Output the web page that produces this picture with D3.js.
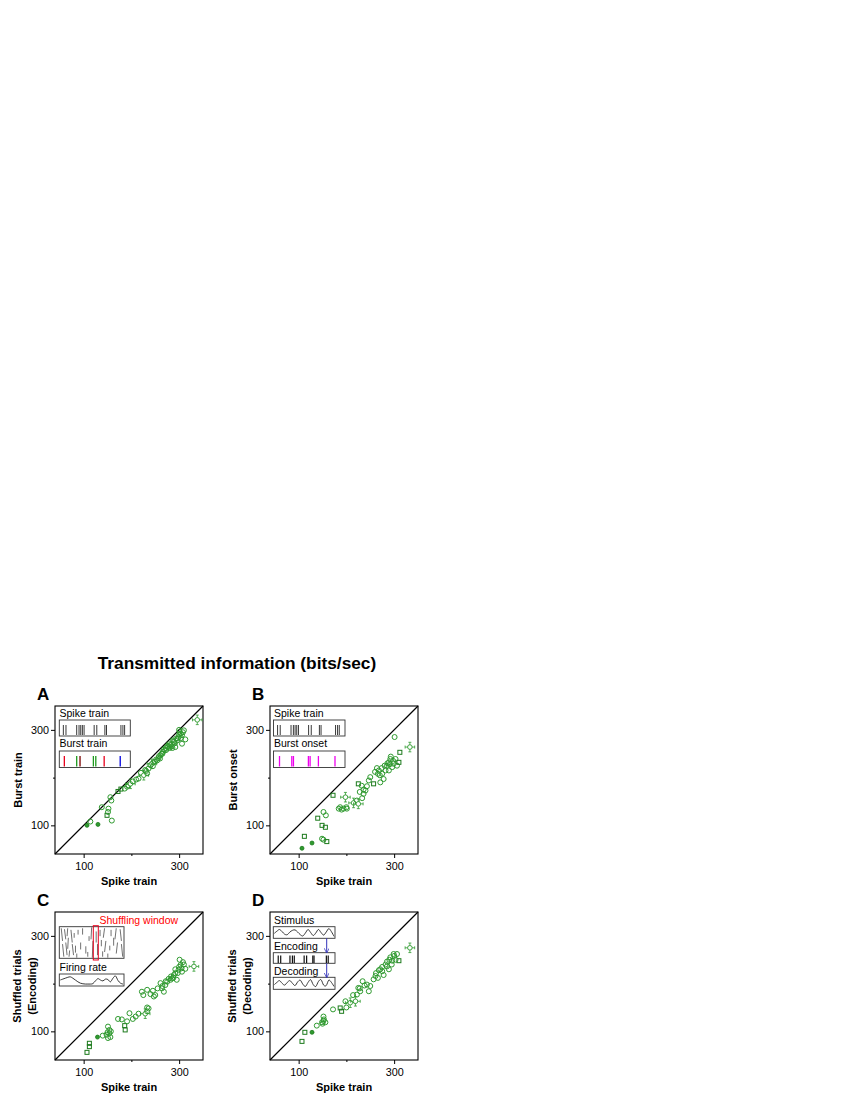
<!DOCTYPE html>
<html><head><meta charset="utf-8">
<script src="https://cdn.jsdelivr.net/npm/d3@7"></script>
<style>
body{margin:0;background:#fff}
svg{display:block}
text{font-family:Arial,"Liberation Sans",sans-serif;fill:#000}
</style>
</head><body>
<svg id="chart" width="850" height="1100"></svg>
<script>
// ---------- data ----------
const axisDomain = [40, 350];
const tickValues = [100, 200, 300];
const tickLabels = ["100", "", "300"];
const errSize = 10;

// Panel A: Spike train vs Burst train
const aX = [107,130,114,138,149,151,152,159,156,158,172,178,186,191,194,198,203,215,220,226,229,233,236,240,243,246,249,254,257,261,263,266,268,270,272,275,277,280,282,285,287,289,292,294,296,299,301,303,306,306,310,313,338,
            245,252,258,265,273,279,284,291,297,300,304,308,286,260,231,210,300];
const aY = [100,102,108,138,121,128,135,110,159,152,171,176,177,181,184,187,192,198,210,205,216,209,219,226,229,232,233,236,241,247,250,254,259,257,262,266,264,262,268,271,278,275,264,282,278,285,296,292,289,271,299,280,321,
            224,238,245,250,258,270,265,272,282,290,283,295,262,240,214,196,300];
const aK = ["f","f","o","o","s","o","o","o","o","o","s","s","o","o","o","e","o","o","o","e","o","o","o","o","e","o","o","o","o","o","o","o","o","o","o","o","o","o","o","e","o","o","o","o","o","o","o","o","o","o","o","o","e",
            "o","o","o","o","o","o","o","o","o","o","o","o","o","o","o","o","o"];

// Panel B: Spike train vs Burst onset
const bX = [107,112,128,140,149,156,152,157,149,152,159,172,198,187,190,194,201,215,222,225,233,236,240,243,225,232,247,250,257,266,271,278,268,275,282,285,289,292,296,289,299,303,306,310,301,312,333,
            260,264,270,274,280,286,291,298,293,236,228,200,184];
const bY = [52,77,63,115,100,96,128,121,72,70,66,163,159,138,133,135,135,147,152,145,157,166,173,182,187,183,194,201,187,208,190,197,215,208,215,225,232,239,222,215,229,239,225,232,285,253,264,
            212,220,205,220,225,230,228,235,244,175,170,138,135];
const bK = ["f","s","f","s","s","s","o","o","o","o","s","s","e","o","o","o","o","e","o","e","o","o","o","o","s","o","o","o","s","o","o","o","o","o","o","o","o","o","o","o","o","o","o","s","o","s","e",
            "o","o","o","o","o","o","o","o","o","o","o","o","o"];

// Panel C: Spike train vs Shuffled trials (Encoding)
const cX = [107,112,112,129,140,148,151,154,151,156,154,172,186,187,191,196,203,209,215,229,233,233,236,222,225,233,247,250,261,264,268,271,275,282,285,289,292,295,299,303,306,301,308,313,331,
            265,272,278,283,288,292,297,300,305,310,240,245,255,180,157,150];
const cY = [56,75,68,88,91,93,110,96,86,88,103,126,112,103,121,138,126,131,137,137,142,150,148,183,176,187,173,176,201,190,183,197,204,208,211,218,222,208,229,239,225,250,245,231,236,
            195,205,210,215,212,230,222,235,232,240,178,185,190,125,100,98];
const cK = ["s","s","s","f","o","o","o","o","o","o","o","o","s","s","o","o","o","o","o","e","o","o","o","o","o","o","o","o","o","o","o","o","o","o","o","o","o","o","o","o","o","o","o","o","e",
            "o","o","o","o","o","o","o","o","o","o","o","o","o","o","o","o"];

// Panel D: Spike train vs Shuffled trials (Decoding)
const dX = [107,113,128,138,149,152,156,152,172,187,190,198,208,219,222,225,229,234,243,247,250,257,261,266,271,275,282,285,289,292,296,299,306,310,333,
            262,268,275,278,285,290,295,300,303,238,228,214,200,153,150];
const dY = [79,98,98,112,119,122,119,131,146,149,142,163,160,163,177,191,184,205,198,184,195,209,216,212,230,226,240,246,230,255,248,262,262,248,275,
            222,228,235,218,236,250,240,258,250,196,190,176,150,125,116];
const dK = ["s","s","f","o","o","o","o","o","o","s","s","o","e","e","o","o","o","o","o","o","o","o","o","o","o","o","o","o","o","o","o","o","o","s","e",
            "o","o","o","o","o","o","o","o","o","o","o","o","o","o","o"];

// Inset data
const spikeFrac = [0.057,0.094,0.245,0.278,0.302,0.325,0.349,0.491,0.528,0.642,0.665,0.868,0.896,0.92];
const burstFrac = [0.071,0.245,0.292,0.48,0.514,0.632,0.858];
const burstColor = ["#e8001c","#1d9a1d","#7a0000","#1d9a1d","#1d9a1d","#e8001c","#0000e0"];
const onsetFrac = [0.084,0.256,0.279,0.488,0.512,0.628,0.86];
const encodeFrac = [0.08,0.12,0.27,0.31,0.34,0.50,0.54,0.64,0.66,0.86,0.89];
// raster dashes: [x fraction, y start, y end, x shift]
const raster = [
 [0.03,0.05,0.45,0.02],[0.05,0.55,0.95,0.02],[0.08,0.08,0.40,0.02],[0.10,0.50,0.90,0.02],
 [0.13,0.05,0.30,-0.01],[0.14,0.35,0.70,-0.01],[0.16,0.75,0.95,-0.01],[0.18,0.10,0.50,0.02],
 [0.20,0.55,0.90,0.02],[0.23,0.20,0.35,0.0],[0.25,0.60,0.82,0.0],[0.29,0.10,0.25,0.0],
 [0.33,0.50,0.72,0.0],[0.36,0.05,0.25,0.0],[0.41,0.62,0.85,0.0],[0.46,0.30,0.45,0.0],
 [0.50,0.02,0.40,-0.01],[0.52,0.45,0.98,-0.01],[0.57,0.15,0.50,0.0],[0.59,0.55,0.90,0.0],
 [0.63,0.10,0.30,0.0],[0.65,0.42,0.62,0.0],[0.70,0.05,0.35,-0.02],[0.72,0.45,0.80,-0.02],
 [0.75,0.85,0.98,0.0],[0.80,0.10,0.30,0.0],[0.84,0.35,0.60,0.0],[0.88,0.05,0.40,-0.02],
 [0.90,0.50,0.85,-0.02],[0.94,0.08,0.45,0.02],[0.96,0.55,0.95,0.02],[0.27,0.85,0.98,0.0],
 [0.44,0.80,0.95,0.0],[0.78,0.60,0.75,0.0],[0.67,0.78,0.95,0.0]
];
const firingRate = [0.5,0.6,0.7,0.8,0.85,0.7,0.5,0.3,0.15,0.08,0.05,0.05,0.05,0.1,0.4,0.65,0.5,0.4,0.6,0.55,0.3,0.7,0.95,0.45,0.15,0.05];
const stimulus = [0.4,0.65,0.85,0.6,0.3,0.25,0.55,0.75,0.8,0.55,0.25,0.1,0.45,0.85,0.5,0.15,0.45,0.85,0.5,0.2,0.55,0.95,0.6,0.05];
const decoding = [0.35,0.6,0.8,0.5,0.3,0.6,0.8,0.5,0.25,0.65,0.85,0.4,0.15,0.6,0.9,0.35,0.15,0.7,0.9,0.3,0.25,0.85,0.6,0.15];

// ---------- drawing ----------
const svg = d3.select("#chart");
const S = 148;
const green = "#2f9a2f", greenDark = "#1c7a1c";

svg.append("text").attr("x", 237).attr("y", 669).attr("text-anchor","middle")
  .style("font-size","17.3px").style("font-weight","bold")
  .text("Transmitted information (bits/sec)");

function panel(left, top, letter, xs, ys, ks, ylab) {
  const g = svg.append("g").attr("transform", `translate(${left},${top})`);
  const x = d3.scaleLinear(axisDomain, [0, S]);
  const y = d3.scaleLinear(axisDomain, [S, 0]);

  svg.append("text").attr("x", left - 18).attr("y", top - 6)
    .style("font-size","17px").style("font-weight","bold").text(letter);

  const ax = g.append("g").attr("transform", `translate(0,${S})`)
    .call(d3.axisBottom(x).tickValues(tickValues).tickSize(4).tickSizeOuter(0)
      .tickFormat((d,i)=>tickLabels[i]));
  const ay = g.append("g")
    .call(d3.axisLeft(y).tickValues(tickValues).tickSize(4).tickSizeOuter(0)
      .tickFormat((d,i)=>tickLabels[i]));
  [ax, ay].forEach(a => {
    a.select(".domain").remove();
    a.selectAll("text").style("font-size","10.8px").style("font-family","Arial, 'Liberation Sans', sans-serif").attr("fill","#000");
    a.selectAll(".tick line").attr("stroke","#000");
  });
  ax.selectAll(".tick").filter(d=>d===200).select("line").attr("y2", 2);
  ay.selectAll(".tick").filter(d=>d===200).select("line").attr("x2", -2);
  ax.selectAll("text").attr("dy", "0.71em").attr("y", 8);
  ay.selectAll("text").attr("x", -6);

  g.append("rect").attr("width", S).attr("height", S)
    .attr("fill","none").attr("stroke","#000").attr("stroke-width",1.1);
  g.append("line").attr("x1", x(axisDomain[0])).attr("y1", y(axisDomain[0]))
    .attr("x2", x(axisDomain[1])).attr("y2", y(axisDomain[1]))
    .attr("stroke","#000").attr("stroke-width",1.2);

  const pts = xs.map((v,i)=>({x:v, y:ys[i], k:ks[i]}));
  const pg = g.append("g");
  pts.forEach(p => {
    const cx = x(p.x), cy = y(p.y);
    if (p.k === "e") {
      pg.append("line").attr("x1", x(p.x-errSize)).attr("x2", x(p.x+errSize)).attr("y1",cy).attr("y2",cy)
        .attr("stroke",green).attr("stroke-width",0.8);
      pg.append("line").attr("y1", y(p.y-errSize)).attr("y2", y(p.y+errSize)).attr("x1",cx).attr("x2",cx)
        .attr("stroke",green).attr("stroke-width",0.8);
      [x(p.x-errSize), x(p.x+errSize)].forEach(ex=>pg.append("line")
        .attr("x1",ex).attr("x2",ex).attr("y1",cy-1.5).attr("y2",cy+1.5).attr("stroke",green).attr("stroke-width",0.8));
      [y(p.y-errSize), y(p.y+errSize)].forEach(ey=>pg.append("line")
        .attr("y1",ey).attr("y2",ey).attr("x1",cx-1.5).attr("x2",cx+1.5).attr("stroke",green).attr("stroke-width",0.8));
      pg.append("circle").attr("cx",cx).attr("cy",cy).attr("r",2.3)
        .attr("fill","#fff").attr("stroke",green).attr("stroke-width",0.9);
    } else if (p.k === "s") {
      pg.append("rect").attr("x",cx-2).attr("y",cy-2).attr("width",4).attr("height",4)
        .attr("fill","none").attr("stroke",greenDark).attr("stroke-width",1);
    } else if (p.k === "f") {
      pg.append("circle").attr("cx",cx).attr("cy",cy).attr("r",2)
        .attr("fill",green).attr("stroke",greenDark).attr("stroke-width",0.8);
    } else {
      pg.append("circle").attr("cx",cx).attr("cy",cy).attr("r",2.5)
        .attr("fill","none").attr("stroke",green).attr("stroke-width",1);
    }
  });

  svg.append("text").attr("x", left + S/2).attr("y", top + S + 31).attr("text-anchor","middle")
    .style("font-size","11px").style("font-weight","bold").text("Spike train");
  ylab.forEach((t,i) => {
    const bx = ylab.length === 1 ? 22 : 21 + i*15;
    svg.append("text").attr("transform", `translate(${left - 55 + bx},${top + S/2}) rotate(-90)`)
      .attr("text-anchor","middle").style("font-size","11px").style("font-weight","bold").text(t);
  });
  return g;
}

function box(g, x0, y0, w, h) {
  g.append("rect").attr("x",x0).attr("y",y0).attr("width",w).attr("height",h)
    .attr("fill","#fff").attr("stroke","#333").attr("stroke-width",0.9);
}
function label(g, x0, y0, t, col) {
  g.append("text").attr("x",x0).attr("y",y0).style("font-size","10.5px")
    .style("fill", col || "#000").text(t);
}
function ticks(g, x0, y0, w, h, fr, cols, sw) {
  fr.forEach((f,i)=>g.append("line").attr("x1",x0+f*w).attr("x2",x0+f*w)
    .attr("y1",y0+5).attr("y2",y0+h-1).attr("stroke", cols ? cols[i] : "#222").attr("stroke-width", sw));
}
function wave(g, x0, y0, w, h, vals) {
  const sx = d3.scaleLinear([0, vals.length-1], [x0+1, x0+w-1]);
  const sy = d3.scaleLinear([0,1], [y0+h-1.5, y0+1.5]);
  g.append("path").attr("d", d3.line().x((d,i)=>sx(i)).y(d=>sy(d)).curve(d3.curveCardinal)(vals))
    .attr("fill","none").attr("stroke","#222").attr("stroke-width",0.9);
}

// Panel A
const gA = panel(55, 706, "A", aX, aY, aK, ["Burst train"]);
label(gA, 4.5, 10.5, "Spike train");
box(gA, 4.3, 14, 71, 16);
ticks(gA, 4.3, 14, 71, 16, spikeFrac, null, 0.9);
label(gA, 4.5, 41, "Burst train");
box(gA, 4.3, 45, 71, 16.5);
ticks(gA, 4.3, 45, 71, 16.5, burstFrac, burstColor, 1.3);

// Panel B
const gB = panel(270, 706, "B", bX, bY, bK, ["Burst onset"]);
label(gB, 4, 10.5, "Spike train");
box(gB, 3.5, 14, 71.5, 16);
ticks(gB, 3.5, 14, 71.5, 16, spikeFrac, null, 0.9);
label(gB, 4, 41, "Burst onset");
box(gB, 3.5, 45, 71.5, 16.5);
ticks(gB, 3.5, 45, 71.5, 16.5, onsetFrac, onsetFrac.map(()=>"#ee00ee"), 1.3);

// Panel C
const gC = panel(55, 912, "C", cX, cY, cK, ["Shuffled trials","(Encoding)"]);
box(gC, 4.3, 14.7, 64.7, 31.6);
raster.forEach(r => gC.append("line")
  .attr("x1", 4.3 + r[0]*64.7).attr("x2", 4.3 + (r[0]+r[3])*64.7)
  .attr("y1", 14.7 + r[1]*31.6).attr("y2", 14.7 + r[2]*31.6)
  .attr("stroke","#333").attr("stroke-width",0.7));
gC.append("rect").attr("x",38.3).attr("y",13.7).attr("width",5).attr("height",34.3)
  .attr("fill","none").attr("stroke","#e8001c").attr("stroke-width",1);
label(gC, 44.5, 12, "Shuffling window", "#ff0000");
label(gC, 4.5, 58.5, "Firing rate");
box(gC, 4.3, 62, 64.7, 12);
wave(gC, 4.3, 62, 64.7, 12, firingRate);

// Panel D
const gD = panel(270, 912, "D", dX, dY, dK, ["Shuffled trials","(Decoding)"]);
label(gD, 4, 12, "Stimulus");
box(gD, 3.3, 14.7, 61.7, 11.6);
wave(gD, 3.3, 14.7, 61.7, 11.6, stimulus);
label(gD, 4, 37.5, "Encoding");
box(gD, 3.3, 40.7, 61.7, 10.6);
encodeFrac.forEach(f=>gD.append("line").attr("x1",3.3+f*61.7).attr("x2",3.3+f*61.7)
  .attr("y1",43.5).attr("y2",51).attr("stroke","#111").attr("stroke-width",1.2));
label(gD, 4, 62.5, "Decoding");
box(gD, 3.3, 65.3, 61.7, 12);
wave(gD, 3.3, 65.3, 61.7, 12, decoding);
svg.append("defs").append("marker").attr("id","ah").attr("viewBox","0 0 10 10")
  .attr("refX",9).attr("refY",5).attr("markerWidth",5).attr("markerHeight",5).attr("orient","auto")
  .append("path").attr("d","M0,0L10,5L0,10").attr("fill","none").attr("stroke","#3333bb").attr("stroke-width",1.5);
[[26.3,40.7],[51.3,65.3]].forEach(([a,b])=>gD.append("line")
  .attr("x1",56.7).attr("x2",56.7).attr("y1",a).attr("y2",b)
  .attr("stroke","#3333bb").attr("stroke-width",1).attr("marker-end","url(#ah)"));
</script>
</body></html>
